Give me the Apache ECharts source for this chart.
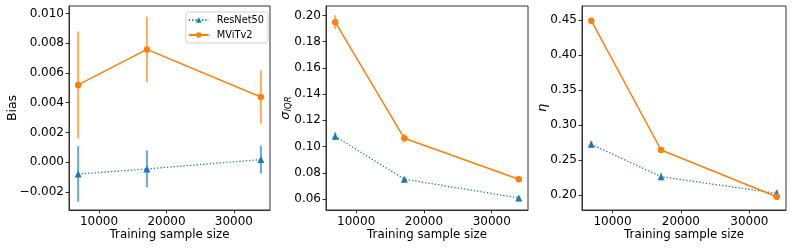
<!DOCTYPE html>
<html>
<head>
<meta charset="utf-8">
<script src="https://cdn.jsdelivr.net/npm/echarts@6/dist/echarts.min.js"></script>
<style>html,body{margin:0;padding:0;background:#fff}#c{width:793px;height:248px}</style>
</head>
<body>
<div id="c"></div>
<script>
// ---- data ----
const sampleSizes = [6900, 17100, 34000];
const seriesNames = ['ResNet50', 'MViTv2'];

const biasResNet = [-0.0008, -0.00046, 0.00017];
const biasResNetErr = [0.00187, 0.00124, 0.00094];
const biasMViT = [0.00519, 0.00758, 0.00438];
const biasMViTErr = [0.0036, 0.0022, 0.0018];

const sigmaResNet = [0.1078, 0.0751, 0.0608];
const sigmaResNetErr = [0.003, 0.0015, 0.0012];
const sigmaMViT = [0.1949, 0.1063, 0.0751];
const sigmaMViTErr = [0.0053, 0.003, 0.0015];

const etaResNet = [0.2724, 0.2262, 0.2024];
const etaResNetErr = [0.005, 0.005, 0.005];
const etaMViT = [0.449, 0.2643, 0.1976];
const etaMViTErr = [0.004, 0.004, 0.004];

const xTicks = [10000, 20000, 30000];
const biasTicks = [-0.002, 0.000, 0.002, 0.004, 0.006, 0.008, 0.010];
const sigmaTicks = [0.06, 0.08, 0.10, 0.12, 0.14, 0.16, 0.18, 0.20];
const etaTicks = [0.20, 0.25, 0.30, 0.35, 0.40, 0.45];

// ---- styling ----
const BLUE = '#1f77b4', ORANGE = '#ff7f0e';
const FONT = 'DejaVu Sans';
const FS = 12;

const grids = [
  {left: 69, top: 6, width: 201, height: 204},
  {left: 326, top: 6, width: 202, height: 204},
  {left: 582, top: 6, width: 204, height: 204}
];

const yDefs = [
  {min: -0.00322, max: 0.0105, ticks: biasTicks, dec: 3, name: 'Bias', gap: 50, rich: null},
  {min: 0.0516, max: 0.2072, ticks: sigmaTicks, dec: 2, name: '{a|σ}{b|IQR}', gap: 33, rich: true},
  {min: 0.1786, max: 0.47, ticks: etaTicks, dec: 2, name: '{a|η}', gap: 33, rich: true}
];

function fmt(v, dec) { return v.toFixed(dec).replace('-', '\u2212'); }

const xAxes = grids.map((g, i) => ({
  type: 'value', gridIndex: i, min: 5545, max: 35355,
  name: 'Training sample size', nameLocation: 'middle', nameGap: 19, nameMoveOverlap: false,
  nameTextStyle: {fontFamily: FONT, fontSize: 11.8, color: '#000'},
  axisLine: {show: true, onZero: false, lineStyle: {color: '#333', width: 1}},
  axisTick: {show: true, length: 3.5, inside: false, customValues: xTicks, lineStyle: {color: '#000', width: 0.8}},
  axisLabel: {customValues: xTicks, fontFamily: FONT, fontSize: FS, color: '#000', margin: 6, formatter: v => String(Math.round(v))},
  splitLine: {show: false}
}));

const yAxes = yDefs.map((d, i) => ({
  type: 'value', gridIndex: i, min: d.min, max: d.max,
  name: d.name, nameLocation: 'middle', nameGap: d.gap, nameRotate: 90, nameMoveOverlap: false,
  nameTextStyle: {fontFamily: FONT, fontSize: 12.5, color: '#000',
    rich: d.rich ? {
      a: {fontFamily: FONT, fontSize: 13, fontStyle: 'italic', color: '#000'},
      b: {fontFamily: FONT, fontSize: 8.5, fontStyle: 'italic', color: '#000', verticalAlign: 'bottom', padding: [6, 0, 0, 0]}
    } : undefined},
  axisLine: {show: true, onZero: false, lineStyle: {color: '#333', width: 1}},
  axisTick: {show: true, length: 3.5, inside: false, customValues: d.ticks, lineStyle: {color: '#000', width: 0.8}},
  axisLabel: {customValues: d.ticks, fontFamily: FONT, fontSize: FS, color: '#000', margin: 5, formatter: v => fmt(v, d.dec)},
  splitLine: {show: false}
}));

function errSeries(idx, vals, errs, color) {
  return {
    type: 'custom', name: 'err' + idx + color, xAxisIndex: idx, yAxisIndex: idx, z: 1,
    data: sampleSizes.map((x, k) => [x, vals[k] - errs[k], vals[k] + errs[k]]),
    encode: {x: 0, y: [1, 2]},
    renderItem: (params, api) => {
      const p1 = api.coord([api.value(0), api.value(1)]);
      const p2 = api.coord([api.value(0), api.value(2)]);
      return {type: 'line', shape: {x1: p1[0], y1: p1[1], x2: p2[0], y2: p2[1]},
        style: {stroke: color, lineWidth: 2, opacity: 0.65}};
    },
    silent: true
  };
}

function lineSeries(idx, name, vals, color, dotted) {
  return {
    type: 'line', name: name, xAxisIndex: idx, yAxisIndex: idx, z: 3,
    data: sampleSizes.map((x, k) => [x, vals[k]]),
    symbol: dotted ? 'triangle' : 'circle', symbolSize: dotted ? 7 : 6.5,
    itemStyle: {color: color},
    lineStyle: {color: color, width: dotted ? 1.3 : 1.5, type: dotted ? [1.3, 2] : 'solid'},
    showSymbol: true
  };
}

const panels = [
  [biasResNet, biasResNetErr, biasMViT, biasMViTErr],
  [sigmaResNet, sigmaResNetErr, sigmaMViT, sigmaMViTErr],
  [etaResNet, etaResNetErr, etaMViT, etaMViTErr]
];

const series = [];
panels.forEach((p, i) => {
  series.push(errSeries(i, p[0], p[1], BLUE));
  series.push(errSeries(i, p[2], p[3], ORANGE));
  series.push(lineSeries(i, seriesNames[0], p[0], BLUE, true));
  series.push(lineSeries(i, seriesNames[1], p[2], ORANGE, false));
});

const chart = echarts.init(document.getElementById('c'), null, {renderer: 'canvas'});
chart.setOption({
  animation: false,
  backgroundColor: '#fff',
  grid: grids.map(g => Object.assign({show: true, borderColor: '#333', borderWidth: 1, backgroundColor: 'transparent', containLabel: false}, g)),
  xAxis: xAxes,
  yAxis: yAxes,
  legend: {
    data: seriesNames, orient: 'vertical', right: 525, top: 12,
    itemWidth: 20, itemHeight: 7, itemGap: 5,
    padding: [3, 4, 3, 2], borderColor: '#d0d0d0', borderWidth: 1, borderRadius: 3,
    backgroundColor: 'rgba(255,255,255,0.8)',
    textStyle: {fontFamily: FONT, fontSize: 9.8, color: '#000', padding: [0, 0, 0, 3]}
  },
  series: series
});
</script>
</body>
</html>
